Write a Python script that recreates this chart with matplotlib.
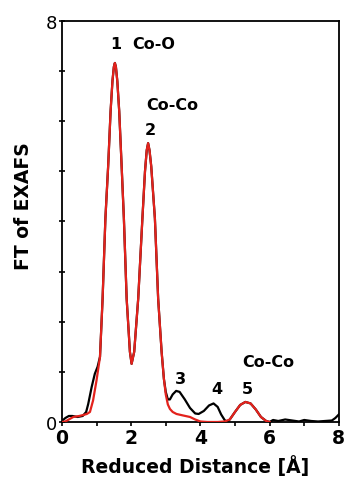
import matplotlib
matplotlib.use("Agg")
import matplotlib.pyplot as plt
from matplotlib.ticker import MultipleLocator

# shared main peaks (Co-O and first Co-Co shells), both fits overlap here
core_r = [1.1, 1.175, 1.256, 1.337, 1.406, 1.46, 1.5, 1.53, 1.56, 1.6, 1.655,
          1.724, 1.79, 1.87, 1.964, 2.013, 2.088, 2.204, 2.325, 2.4, 2.45,
          2.49, 2.53, 2.58, 2.686, 2.78, 2.88, 2.946]
core_ft = [1.3, 2.46, 4.06, 5.12, 6.2, 6.8, 7.08, 7.16, 7.08, 6.8, 6.2,
           5.12, 4.06, 2.46, 1.4, 1.16, 1.4, 2.46, 4.06, 5.0, 5.42,
           5.56, 5.42, 5.1, 4.06, 2.46, 1.4, 0.86]

# experiment (black)
exp_r = ([0.0, 0.1, 0.2, 0.3, 0.45, 0.6, 0.7, 0.76, 0.86, 0.95, 1.03] + core_r +
         [3.0, 3.06, 3.12, 3.2, 3.3, 3.4, 3.55, 3.7, 3.85, 3.95, 4.1, 4.25,
          4.38, 4.5, 4.6, 4.7, 4.77, 4.85, 5.0, 5.15, 5.3, 5.45, 5.6, 5.75,
          5.9, 6.0, 6.1, 6.25, 6.45, 6.65, 6.85, 7.0, 7.2, 7.4, 7.6, 7.8,
          7.9, 8.0])
exp_ft = ([0.02, 0.08, 0.12, 0.12, 0.1, 0.12, 0.2, 0.36, 0.7, 0.96, 1.1] + core_ft +
          [0.6, 0.45, 0.45, 0.55, 0.62, 0.6, 0.45, 0.28, 0.17, 0.16, 0.22,
           0.33, 0.37, 0.3, 0.15, 0.04, 0.0, 0.05, 0.2, 0.34, 0.4, 0.37,
           0.25, 0.1, 0.02, 0.0, 0.04, 0.02, 0.05, 0.03, 0.01, 0.04, 0.02,
           0.01, 0.02, 0.03, 0.08, 0.15])

# fit (red)
fit_r = ([0.0, 0.1, 0.2, 0.33, 0.5, 0.62, 0.72, 0.81, 0.9, 1.0] + core_r +
         [3.0, 3.06, 3.12, 3.2, 3.31, 3.5, 3.7, 3.85, 4.0, 4.2, 4.5, 4.7,
          4.85, 5.0, 5.15, 5.3, 5.45, 5.6, 5.75, 5.9, 6.0])
fit_ft = ([0.0, 0.01, 0.05, 0.1, 0.12, 0.14, 0.16, 0.2, 0.43, 0.83] + core_ft +
          [0.55, 0.35, 0.26, 0.2, 0.16, 0.13, 0.1, 0.05, 0.01, 0.0, 0.0,
           0.01, 0.05, 0.2, 0.34, 0.4, 0.37, 0.25, 0.1, 0.02, 0.0])

peak_labels = ["1", "2", "3", "4", "5"]
peak_pos = [(1.56, 7.54), (2.54, 5.84), (3.41, 0.86), (4.48, 0.66), (5.37, 0.66)]
shell_labels = ["Co-O", "Co-Co", "Co-Co"]
shell_pos = [(2.03, 7.54), (2.43, 6.34), (5.21, 1.2)]

fig = plt.figure(figsize=(3.44, 4.81), dpi=100)
ax = fig.add_axes([0.180, 0.1206, 0.805, 0.834])

ax.plot(exp_r, exp_ft, color="black", lw=1.6, zorder=2)
ax.plot(fit_r, fit_ft, color="#e3221c", lw=1.6, zorder=3)

for lab, (x, y) in zip(peak_labels, peak_pos):
    ax.text(x, y, lab, ha="center", va="center", fontsize=11.5, fontweight="bold")
for lab, (x, y) in zip(shell_labels, shell_pos):
    ax.text(x, y, lab, ha="left", va="center", fontsize=11.5, fontweight="bold")

ax.set_xlim(0, 8)
ax.set_ylim(0, 8)
ax.set_xticks([0, 2, 4, 6, 8])
ax.xaxis.set_minor_locator(MultipleLocator(1))
ax.set_yticks([0, 8])
ax.yaxis.set_minor_locator(MultipleLocator(1))
ax.tick_params(axis="x", which="both", direction="out", length=3, width=1.2,
               labelsize=13.5, pad=1)
ax.tick_params(axis="y", which="both", direction="inout", length=5, width=1.2,
               labelsize=13, pad=1)
for lab in ax.get_xticklabels():
    lab.set_fontweight("bold")
for s in ax.spines.values():
    s.set_linewidth(1.3)

ax.set_xlabel("Reduced Distance [Å]", fontsize=13.5, fontweight="bold")
ax.set_ylabel("FT of EXAFS", fontsize=13.5, fontweight="bold")
ax.xaxis.set_label_coords(0.48, -0.082)
ax.yaxis.set_label_coords(-0.105, 0.54)

fig.savefig("out.png", dpi=100)
